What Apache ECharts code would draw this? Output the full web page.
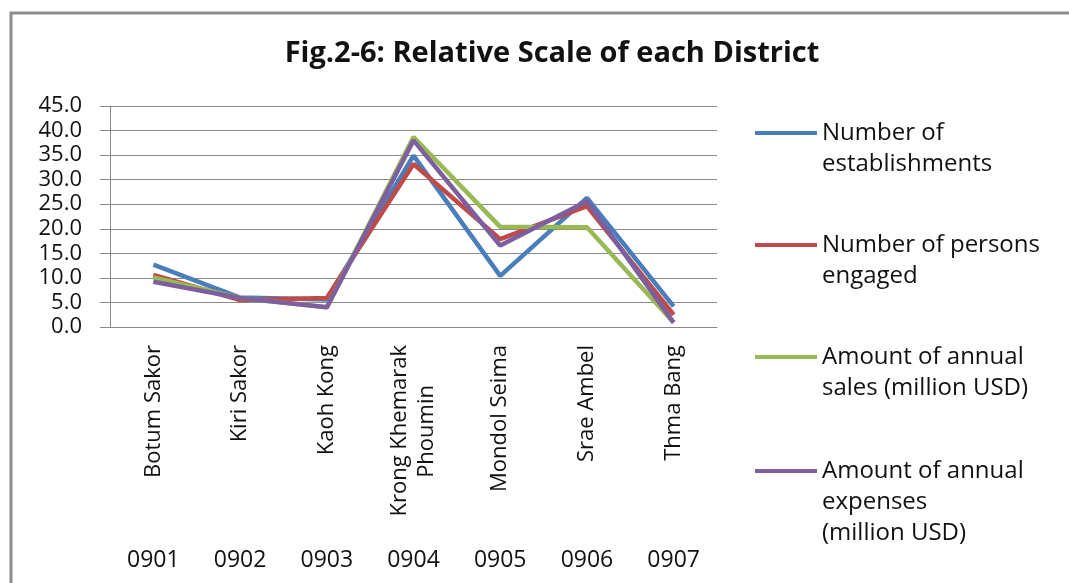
<!DOCTYPE html>
<html>
<head>
<meta charset="utf-8">
<script src="https://cdn.jsdelivr.net/npm/echarts@6/dist/echarts.min.js"></script>
<style>
  html, body { margin: 0; padding: 0; background: #fff; }
  #chart { width: 1069px; height: 583px; }
</style>
</head>
<body>
<div id="chart"></div>
<script>
  // districts and their codes
  const districts = ['Botum Sakor', 'Kiri Sakor', 'Kaoh Kong', 'Krong Khemarak\nPhoumin', 'Mondol Seima', 'Srae Ambel', 'Thma Bang']
  const codes = ['0901', '0902', '0903', '0904', '0905', '0906', '0907']

  // relative scale (%)
  const establishments = [12.7, 6.0, 5.6, 34.9, 10.4, 26.3, 4.2]
  const personsEngaged = [10.6, 5.5, 5.9, 33.2, 17.9, 24.6, 2.5]
  const annualSales = [10.1, 5.9, 4.0, 38.7, 20.4, 20.3, 0.9]
  const annualExpenses = [9.2, 5.9, 4.0, 38.0, 16.6, 25.6, 0.9]

  const seriesNames = [
    'Number of\nestablishments',
    'Number of persons\nengaged',
    'Amount of annual\nsales (million USD)',
    'Amount of annual\nexpenses\n(million USD)'
  ]
  const seriesColors = ['#4a7ebb', '#be4b48', '#98b954', '#7d5fa0']
  const seriesData = [establishments, personsEngaged, annualSales, annualExpenses]

  const font = 'Open Sans'
  const nameSize = 22
  const lineH = 31
  const legendCenters = [133, 245, 357, 471]

  // pad the shorter lines of a rotated (right aligned) label so they sit centred
  const ctx = document.createElement('canvas').getContext('2d')
  ctx.font = nameSize + 'px "' + font + '"'
  const nbspW = ctx.measureText('\u00a0').width
  function centerLines (label) {
    const lines = label.split('\n')
    if (lines.length < 2) return label
    const widths = lines.map(l => ctx.measureText(l).width)
    const maxW = Math.max(...widths)
    return lines.map((l, i) => l + '\u00a0'.repeat(Math.round((maxW - widths[i]) / 2 / nbspW))).join('\n')
  }

  const legends = seriesNames.map((name, i) => {
    const n = name.split('\n').length
    return {
      data: [name],
      left: 755,
      top: legendCenters[i] - (2 * n - 1) * lineH / 2,
      padding: 0,
      icon: 'rect',
      itemWidth: 62,
      itemHeight: 4,
      selectedMode: false,
      // blank lines above keep the first line level with the icon
      formatter: v => '\n'.repeat(n - 1) + v,
      textStyle: {
        fontFamily: font,
        fontSize: 24,
        color: '#111',
        lineHeight: lineH
      }
    }
  })

  const myChart = echarts.init(document.getElementById('chart'))
  myChart.setOption({
    animation: false,
    title: {
      text: 'Fig.2-6: Relative Scale of each District',
      left: 547,
      textAlign: 'center',
      top: 34,
      textStyle: { fontFamily: font, fontSize: 29, fontWeight: 'bold', color: '#111' }
    },
    graphic: [{
      type: 'rect',
      shape: { x: 11, y: 13, width: 1100, height: 700 },
      style: { fill: 'none', stroke: '#8c8c8c', lineWidth: 3 },
      silent: true
    }],
    legend: legends,
    grid: { left: 110, top: 106, width: 607, height: 221 },
    xAxis: [{
      type: 'category',
      data: districts,
      boundaryGap: true,
      axisLine: { lineStyle: { color: '#888', width: 1 } },
      axisTick: { length: 256, lineStyle: { color: '#999', width: 1 } },
      axisLabel: {
        rotate: 90,
        margin: 18,
        interval: 0,
        fontFamily: font,
        fontSize: nameSize,
        lineHeight: 27,
        color: '#111',
        formatter: centerLines
      }
    }, {
      type: 'category',
      data: codes,
      position: 'bottom',
      axisLine: { show: false },
      axisTick: { show: false },
      axisLabel: {
        margin: 222,
        interval: 0,
        fontFamily: font,
        fontSize: 23,
        color: '#111'
      }
    }],
    yAxis: {
      type: 'value',
      min: 0,
      max: 45,
      interval: 5,
      axisLine: { show: true, lineStyle: { color: '#888', width: 1 } },
      axisTick: { show: true, length: 10, lineStyle: { color: '#888' } },
      splitLine: { lineStyle: { color: '#8a8a8a', width: 1 } },
      axisLabel: {
        margin: 28,
        fontFamily: font,
        fontSize: 22,
        color: '#111',
        formatter: v => v.toFixed(1)
      }
    },
    series: seriesNames.map((name, i) => ({
      name: name,
      type: 'line',
      data: seriesData[i],
      symbol: 'none',
      color: seriesColors[i],
      lineStyle: { width: 4.5, color: seriesColors[i] }
    }))
  })
</script>
</body>
</html>
